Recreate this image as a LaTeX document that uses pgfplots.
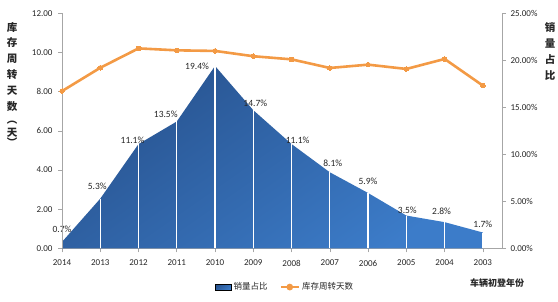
\documentclass[border=0pt]{standalone}
\usepackage{pgfplots}
\pgfplotsset{compat=1.18}
\usepackage{pgfplotstable}
\usepackage{fontspec}
\setmainfont{Carlito}
\newfontfamily\cjk{Noto Sans CJK SC}
\definecolor{lineor}{HTML}{F39A45}
\definecolor{bluedark}{HTML}{28538F}
\definecolor{bluelight}{HTML}{3C7CC9}
\definecolor{axgray}{HTML}{A6A6A6}
\definecolor{txt}{HTML}{262626}
\pgfplotsset{/pgf/number format/assume math mode=true}

\pgfplotstableread{
x share dx dy
0  0.7   0   13
1  5.3  -3   12
2  11.1 -6   4
3  13.5 -11  7
4  19.4 -18  0
5  14.7  2   7
6  11.1  6   4
7  8.1   3   9
8  5.9   0   12
9  3.5   1   5
10 2.8  -3   11
11 1.7   0   8.5
}\sharetab

\pgfplotstableread{
x days
0  8.03
1  9.22
2  10.21
3  10.11
4  10.08
5  9.81
6  9.65
7  9.21
8  9.38
9  9.16
10 9.67
11 8.31
}\daystab

\begin{document}
\begin{tikzpicture}
\useasboundingbox (0,0) rectangle (558pt,302pt);
% right axis: share (area)
\begin{axis}[
  at={(62pt,53.5pt)}, anchor=south west,
  scale only axis, width=440pt, height=235.2pt,
  xmin=0, xmax=11.5, ymin=0, ymax=25,
  axis y line*=right, axis x line*=bottom,
  axis line style={axgray, line width=0.6pt},
  every tick/.style={axgray, line width=0.6pt},
  tick align=outside, major tick length=4pt,
  xtick={0,...,11},
  xticklabels={2014,2013,2012,2011,2010,2009,2008,2007,2006,2005,2004,2003},
  ytick={0,5,10,15,20,25},
  yticklabel={\pgfmathprintnumber[fixed,precision=2,fixed zerofill]{\tick}\%},
  ticklabel style={font=\fontsize{9}{10}\selectfont, text=txt},
  xticklabel style={yshift=-4pt},
  yticklabel style={xshift=1pt},
]
\addplot[draw=none, top color=bluedark, bottom color=bluelight, shading angle=35]
  table[x=x,y=share]{\sharetab} \closedcycle;
\addplot[ycomb, white, line width=1.2pt, mark=none,
  point meta=y,
  visualization depends on={\thisrow{dx} \as \dx},
  visualization depends on={\thisrow{dy} \as \dy},
  nodes near coords={\pgfmathprintnumber[fixed,precision=1,fixed zerofill]{\pgfplotspointmeta}\%},
  nodes near coords style={anchor=center, xshift=\dx pt, yshift=\dy pt,
    font=\fontsize{9.5}{10}\selectfont, text=txt, inner sep=0pt},
] table[x=x,y=share]{\sharetab};
\end{axis}
% left axis: days (line)
\begin{axis}[
  at={(62pt,53.5pt)}, anchor=south west,
  scale only axis, width=440pt, height=235.2pt,
  xmin=0, xmax=11.5, ymin=0, ymax=12,
  axis y line*=left, axis x line=none,
  axis line style={axgray, line width=0.6pt},
  every tick/.style={axgray, line width=0.6pt},
  tick align=outside, major tick length=4pt,
  ytick={0,2,4,6,8,10,12},
  yticklabel={\pgfmathprintnumber[fixed,precision=2,fixed zerofill]{\tick}},
  ticklabel style={font=\fontsize{9}{10}\selectfont, text=txt},
  yticklabel style={xshift=-2pt},
  legend columns=2,
  legend style={draw=none, fill=none, at={(0.507,-0.164)}, anchor=center,
    font=\cjk\fontsize{8.5}{10}\selectfont, text=txt, inner sep=0pt,
    /tikz/every even column/.append style={column sep=10pt}},
  legend cell align=left,
]
\addlegendimage{legend image code/.code={\fill[top color=bluedark, bottom color=bluelight, shading angle=35] (0pt,-3pt) rectangle (16pt,3pt);}}
\addlegendentry{销量占比}
\addplot[lineor, line width=2.6pt, mark=*, mark size=2.3pt,
  mark options={solid, fill=lineor, draw=lineor, line width=0pt},
  legend image code/.code={\draw[lineor, line width=2.5pt] (0pt,0pt) -- (18pt,0pt); \fill[lineor] (9pt,0pt) circle (2pt);}]
  table[x=x,y=days]{\daystab};
\addlegendentry{库存周转天数}
\end{axis}
% axis titles
\begin{scope}[every node/.style={font=\cjk\bfseries\fontsize{10.5}{11}\selectfont, text=txt, inner sep=0pt}]
\node at (12pt,275pt) {库};
\node at (12pt,259pt) {存};
\node at (12pt,243pt) {周};
\node at (12pt,227pt) {转};
\node at (12pt,211pt) {天};
\node at (12pt,195pt) {数};
\node at (12pt,179pt) {︵};
\node at (12pt,169pt) {天};
\node at (12pt,160pt) {︶};
\node at (550pt,274pt) {销};
\node at (550pt,258pt) {量};
\node at (550pt,242pt) {占};
\node at (550pt,226pt) {比};
\end{scope}
\node[font=\cjk\bfseries\fontsize{9}{10}\selectfont, text=txt, inner sep=0pt] at (497pt,19pt) {车辆初登年份};
\end{tikzpicture}
\end{document}
